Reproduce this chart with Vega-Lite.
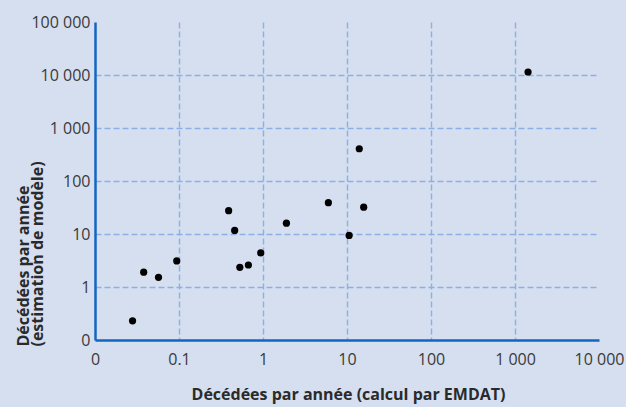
{
  "$schema": "https://vega.github.io/schema/vega-lite/v6.json",
  "width": 504,
  "height": 318,
  "autosize": "none",
  "padding": {"left": 95, "top": 22, "right": 27, "bottom": 67},
  "background": "#d5dff0",
  "config": {"view": {"stroke": null}, "font": "Open Sans"},
  "data": {"values": [
    {"emdat": 0.028, "model": 0.23},
    {"emdat": 0.038, "model": 1.9},
    {"emdat": 0.057, "model": 1.52},
    {"emdat": 0.094, "model": 3.1},
    {"emdat": 0.39, "model": 27.5},
    {"emdat": 0.46, "model": 11.7},
    {"emdat": 0.53, "model": 2.35},
    {"emdat": 0.67, "model": 2.6},
    {"emdat": 0.94, "model": 4.4},
    {"emdat": 1.9, "model": 16},
    {"emdat": 6, "model": 39},
    {"emdat": 10.6, "model": 9.4},
    {"emdat": 14, "model": 406},
    {"emdat": 15.8, "model": 32},
    {"emdat": 1430, "model": 11400}
  ]},
  "mark": {"type": "circle", "size": 52, "color": "#000000", "opacity": 1},
  "encoding": {
    "x": {
      "field": "emdat",
      "type": "quantitative",
      "scale": {"type": "log", "domain": [0.01, 10000], "nice": false},
      "axis": {
        "values": [0.01, 0.1, 1, 10, 100, 1000, 10000],
        "labelExpr": "datum.value < 0.05 ? '0' : datum.value < 0.5 ? '0.1' : datum.value < 5 ? '1' : datum.value < 50 ? '10' : datum.value < 500 ? '100' : datum.value < 5000 ? '1 000' : '10 000'",
        "ticks": false,
        "labelPadding": 11,
        "labelFontSize": 16,
        "labelColor": "#3a3a3a",
        "labelOverlap": false,
        "labelFlush": false,
        "labelBound": false,
        "domainColor": "#1266c0",
        "domainWidth": 2.5,
        "grid": true,
        "gridColor": "#8eaee6",
        "gridWidth": 1.4,
        "gridDash": [6, 3],
        "gridOpacity": {"condition": {"test": "datum.value < 0.05 || datum.value > 5000", "value": 0}, "value": 1},
        "title": "Décédées par année (calcul par EMDAT)",
        "titleFontSize": 16,
        "titleFontWeight": "bold",
        "titleColor": "#2a2a2a",
        "titleX": 253,
        "titleY": 59,
        "titleAlign": "center",
        "titleBaseline": "alphabetic"
      }
    },
    "y": {
      "field": "model",
      "type": "quantitative",
      "scale": {"type": "log", "domain": [0.1, 100000], "nice": false},
      "axis": {
        "values": [0.1, 1, 10, 100, 1000, 10000, 100000],
        "labelExpr": "datum.value < 0.5 ? '0' : datum.value < 5 ? '1' : datum.value < 50 ? '10' : datum.value < 500 ? '100' : datum.value < 5000 ? '1 000' : datum.value < 50000 ? '10 000' : '100 000'",
        "ticks": false,
        "labelPadding": 5,
        "labelFontSize": 16,
        "labelColor": "#3a3a3a",
        "labelOverlap": false,
        "labelFlush": false,
        "labelBound": false,
        "domainColor": "#1266c0",
        "domainWidth": 2.5,
        "grid": true,
        "gridColor": "#8eaee6",
        "gridWidth": 1.4,
        "gridDash": [6, 3],
        "gridOpacity": {"condition": {"test": "datum.value < 0.5 || datum.value > 50000", "value": 0}, "value": 1},
        "title": ["Décédées par année", "(estimation de modèle)"],
        "titleFontSize": 16,
        "titleFontWeight": "bold",
        "titleColor": "#2a2a2a",
        "titleAngle": 270,
        "titleAlign": "left",
        "titleBaseline": "alphabetic",
        "titleLineHeight": 14.5,
        "titleX": -67,
        "titleY": 324
      }
    }
  }
}
